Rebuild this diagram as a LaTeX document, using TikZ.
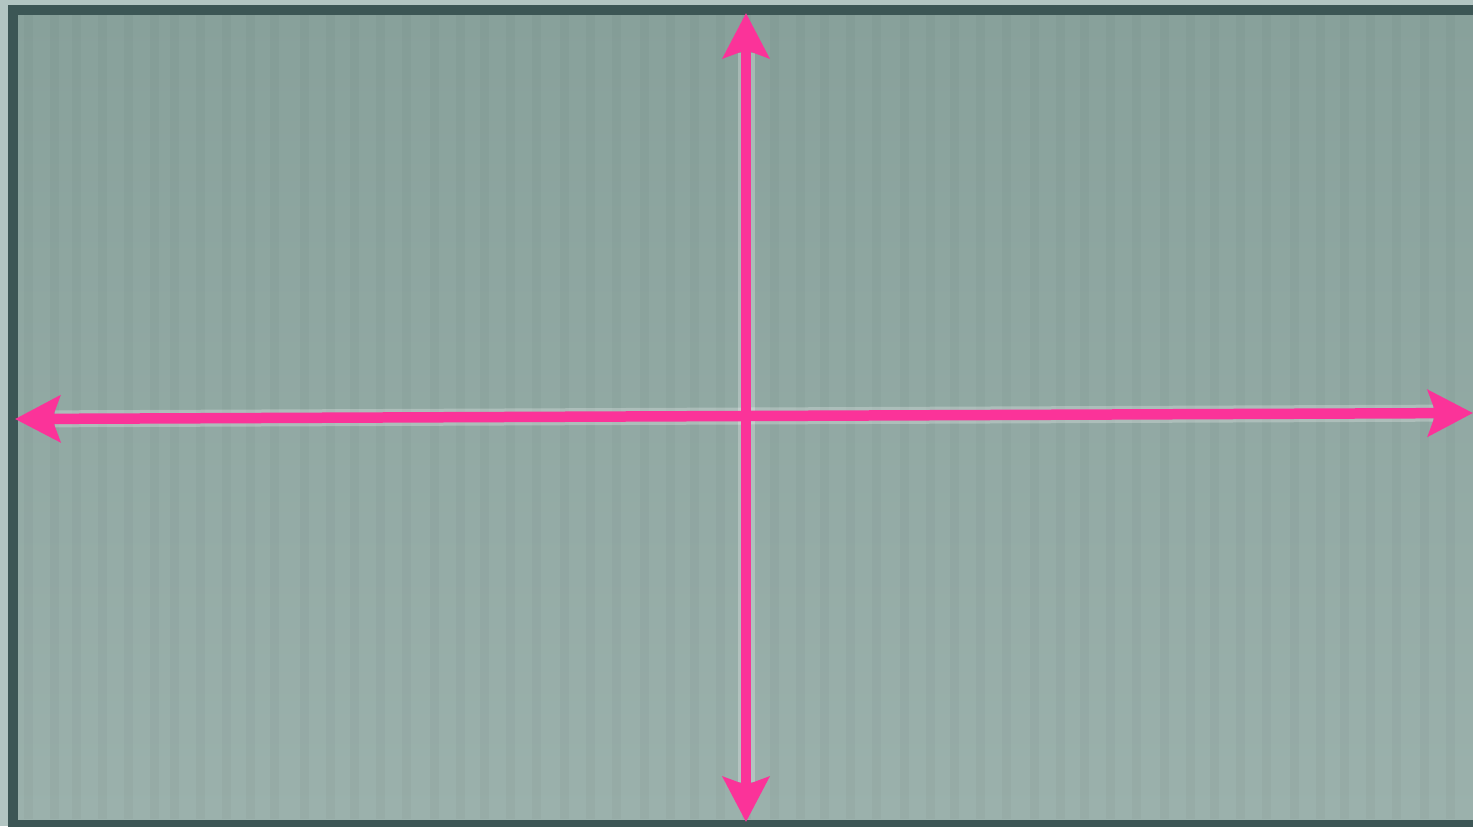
\documentclass[tikz,border=0pt]{standalone}
\usetikzlibrary{arrows.meta}
\definecolor{outerbg}{HTML}{B2C5C2}
\definecolor{framec}{HTML}{3C5655}
\definecolor{innertop}{HTML}{88A19B}
\definecolor{innerbot}{HTML}{9BB1AC}
\definecolor{pinkc}{HTML}{FB3399}
\tikzset{
  axis/.style={draw=pinkc, line width=0.21cm,
    {Stealth[length=0.9cm, width=0.92cm, inset=0.16cm]}-{Stealth[length=0.9cm, width=0.92cm, inset=0.16cm]}},
  glow/.style={draw=white, opacity=0.25, line width=0.34cm, shorten >=0.8cm, shorten <=0.8cm},
  stripe/.style={fill=black, opacity=0.022}
}
\begin{document}
\begin{tikzpicture}[x=0.02cm, y=-0.02cm]
  \useasboundingbox (0,0) rectangle (1473,826);
  \clip (0,0) rectangle (1473,826);
  \fill[outerbg] (0,0) rectangle (1473,826);
  \fill[framec] (8,5) rectangle (1490,840);
  \shade[top color=innertop, bottom color=innerbot] (18,15) rectangle (1490,819);
  \foreach \x in {24,50,72,98,124,150,170,196,222,246,270,300,326,350,376,402,430,456,480,506,532,560,586,612,640,666,690,716,742,770,796,820,846,872,900,926,950,976,1002,1030,1056,1080,1106,1132,1160,1186,1210,1236,1262,1290,1316,1340,1366,1392,1420,1446}
    \fill[stripe] (\x,15) rectangle (\x+9,819);
  \coordinate (L) at (15,419);
  \coordinate (R) at (1473,413);
  \coordinate (T) at (746,13);
  \coordinate (B) at (746,822);
  \draw[glow] (L) -- (R);
  \draw[glow] (T) -- (B);
  \draw[axis] (L) -- (R);
  \draw[axis] (T) -- (B);
\end{tikzpicture}
\end{document}
